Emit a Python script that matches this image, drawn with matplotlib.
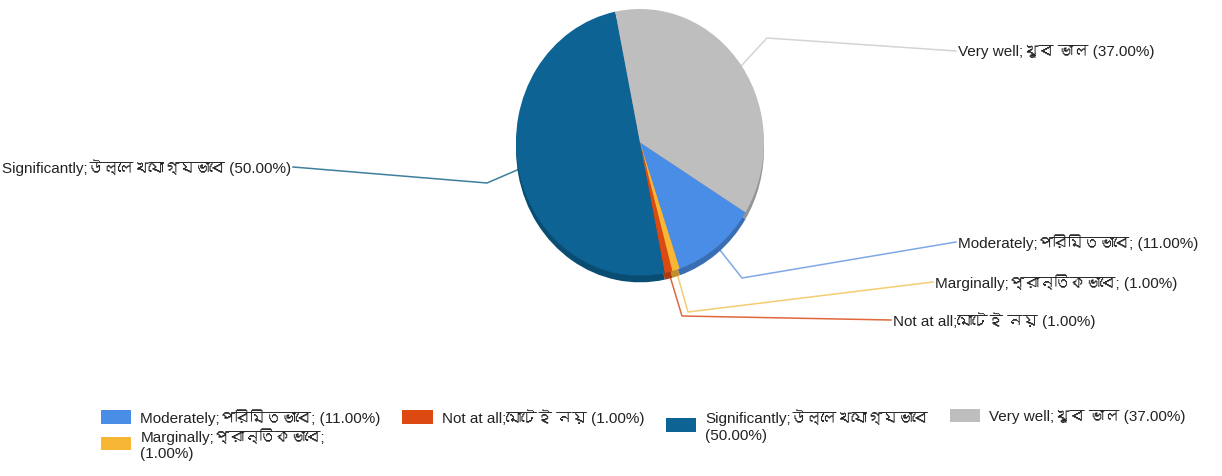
import numpy as np
import matplotlib
matplotlib.use("Agg")
import matplotlib.pyplot as plt
from matplotlib import font_manager
from matplotlib.ft2font import FT2Font
from matplotlib.patches import Patch

# data, in the order the pie is drawn (clockwise)
labels = ["Moderately;পরিমিতভাবে;", "Marginally;প্রান্তিকভাবে;", "Not at all;মোটেই নয়",
          "Significantly;উল্লেখযোগ্যভাবে", "Very well;খুব ভাল"]
values = [11.0, 1.0, 1.0, 50.0, 37.0]
colors = ["#4a8de6", "#f8b637", "#dc4a12", "#0c6394", "#bebebe"]
line_colors = ["#7ea8e6", "#f5cc72", "#e0683c", "#3d7f9c", "#d4d4d4"]

# fonts: narrow Arial-like face, plus anything that can draw Bengali
families = []
names = {f.name for f in font_manager.fontManager.ttflist}
for nm in ["Liberation Sans Narrow", "Liberation Sans"]:
    if nm in names:
        families.append(nm)
for f in font_manager.fontManager.ttflist:
    if f.name in families:
        continue
    try:
        if 0x09AC in FT2Font(f.fname).get_charmap():
            families.append(f.name)
    except Exception:
        pass
families.append("DejaVu Sans")
plt.rcParams['font.family'] = families
plt.rcParams['font.size'] = 11
plt.rcParams['text.color'] = "#222222"

W, H = 1222, 477
fig = plt.figure(figsize=(W / 100, H / 100), dpi=100)

# overlay axes in pixel coords (y measured from top)
ov = fig.add_axes([0, 0, 1, 1])
ov.set_xlim(0, W)
ov.set_ylim(H, 0)
ov.axis("off")

# pie axes: slightly taller than wide
cx, cy, rx, ry = 640, 148, 124, 138
pa = fig.add_axes([(cx - rx) / W, (H - cy - ry) / H, 2 * rx / W, 2 * ry / H])
total = sum(values)
start = 101.5 - 360 * values[-1] / total

dark = [tuple(c * 0.78 for c in matplotlib.colors.to_rgb(col)) for col in colors]
pa.pie(values, colors=dark, startangle=start, counterclock=False,
       center=(0, -0.05), radius=1.0, wedgeprops=dict(linewidth=0))
wedges, _ = pa.pie(values, colors=colors, startangle=start, counterclock=False,
                   radius=1.0, wedgeprops=dict(linewidth=0))
pa.set_aspect("auto")
pa.set_xlim(-1, 1.0)
pa.set_ylim(-1.07, 1.0)
pa.axis("off")

# leader lines: elbow and text point for each slice (pixels from top-left)
elbows = [(742, 279), (688, 313), (682, 317), (487, 184), (767, 39)]
ends = [(956, 243), (933, 283), (891, 321), (293, 168), (956, 52)]
pct = ["({:.2f}%)".format(v / total * 100) for v in values]

fig.canvas.draw()
for w, c, el, en, lab, p in zip(wedges, line_colors, elbows, ends, labels, pct):
    mid = np.deg2rad((w.theta1 + w.theta2) / 2)
    px, py = pa.transData.transform((np.cos(mid) * 0.98, np.sin(mid) * 0.98))
    py = H - py
    ov.plot([px, el[0], en[0]], [py, el[1], en[1]], color=c, lw=1.1)
    ha = "right" if en[0] < cx else "left"
    ov.text(en[0] + (-2 if ha == "right" else 2), en[1], lab + " " + p,
            ha=ha, va="center", fontsize=11)

# legend
leg_labels = [labels[0] + " " + pct[0], labels[1] + "\n" + pct[1],
              labels[2] + " " + pct[2], labels[3] + "\n" + pct[3],
              labels[4] + " " + pct[4]]
handles = [Patch(facecolor=c, edgecolor="none") for c in colors]
leg = fig.legend(handles, leg_labels, ncol=4, loc="upper left",
                 bbox_to_anchor=(93 / W, 1 - 402 / H), frameon=False,
                 handlelength=2.0, handleheight=1.0, handletextpad=0.6,
                 columnspacing=1.4, labelspacing=0.1, borderpad=0, fontsize=11)
# columns top-aligned, colour box centred on its own (maybe two-line) label
leg._legend_handle_box.align = "top"
for col in leg._legend_handle_box.get_children():
    for item in col.get_children():
        item.align = "center"

plt.savefig("out.png", dpi=100)
plt.close()
